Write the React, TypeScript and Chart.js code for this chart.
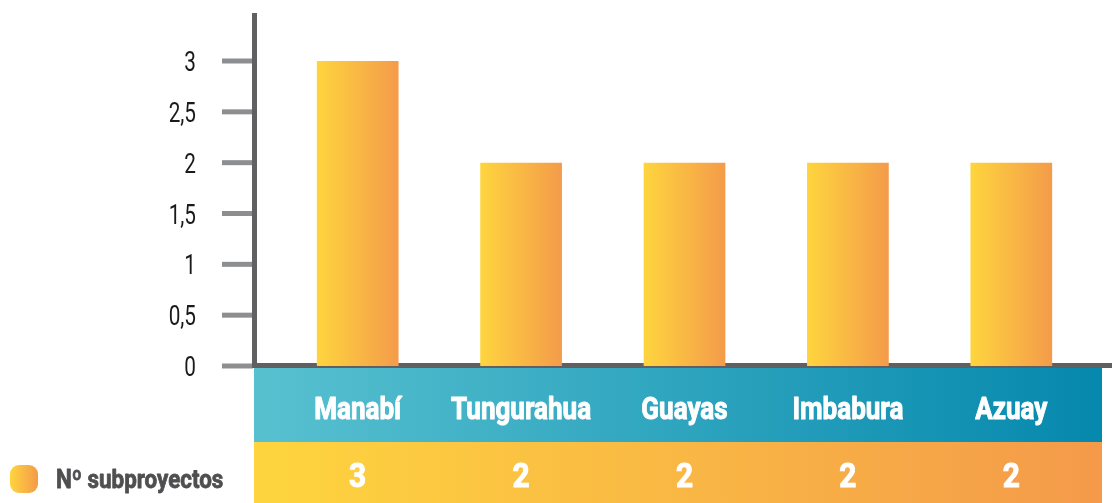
import React, { useEffect, useRef } from "react";
import { Chart, registerables } from "chart.js";

Chart.register(...registerables);

const categories: string[] = ["Manabí", "Tungurahua", "Guayas", "Imbabura", "Azuay"];
const subproyectos: number[] = [3, 2, 2, 2, 2];
const yTicks: number[] = [0, 0.5, 1, 1.5, 2, 2.5, 3];
const legendLabel = "Nº subproyectos";

const FONT = 'Roboto, "Noto Sans", sans-serif';
const W = 1112;
const H = 503;

const fmt = (v: number) => String(v).replace(".", ",");

function condensedText(
  ctx: CanvasRenderingContext2D,
  text: string,
  x: number,
  y: number,
  font: string,
  sx: number,
  align: CanvasTextAlign,
  color: string,
  heavy = 0
) {
  ctx.save();
  ctx.translate(x, y);
  ctx.scale(sx, 1);
  ctx.font = font;
  ctx.textAlign = align;
  ctx.textBaseline = "alphabetic";
  ctx.fillStyle = color;
  ctx.fillText(text, 0, 0);
  if (heavy > 0) {
    ctx.strokeStyle = color;
    ctx.lineWidth = heavy;
    ctx.lineJoin = "round";
    ctx.strokeText(text, 0, 0);
  }
  ctx.restore();
}

const overlayPlugin = {
  id: "overlay",
  beforeDatasetsDraw(chart: any) {
    const ctx = chart.ctx as CanvasRenderingContext2D;
    const y = chart.scales.y;
    const x = chart.scales.x;
    const y0 = y.getPixelForValue(0);
    ctx.save();
    // tick marks and labels
    ctx.strokeStyle = "#8d8e90";
    ctx.lineWidth = 5;
    yTicks.forEach((t) => {
      const py = y.getPixelForValue(t);
      ctx.beginPath();
      ctx.moveTo(222, py);
      ctx.lineTo(253, py);
      ctx.stroke();
      condensedText(ctx, fmt(t), 196, py + 10, "400 28px " + FONT, 0.74, "right", "#1a1a1a");
    });
    // bands
    const bandLeft = 254;
    const bandRight = 1102;
    const tealTop = y0 + 2;
    const tealBottom = 442;
    const g1 = ctx.createLinearGradient(bandLeft, 0, bandRight, 0);
    g1.addColorStop(0, "#58c1d0");
    g1.addColorStop(1, "#0588ad");
    ctx.fillStyle = g1;
    ctx.fillRect(bandLeft, tealTop, bandRight - bandLeft, tealBottom - tealTop);
    const g2 = ctx.createLinearGradient(bandLeft, 0, bandRight, 0);
    g2.addColorStop(0, "#fed53e");
    g2.addColorStop(1, "#f49a4a");
    ctx.fillStyle = g2;
    ctx.fillRect(bandLeft, tealBottom, bandRight - bandLeft, H - tealBottom);
    // labels
    categories.forEach((c, i) => {
      const px = x.getPixelForValue(i);
      condensedText(ctx, c, px, 419, "bold 31px " + FONT, 0.84, "center", "#ffffff", 1);
      condensedText(ctx, String(subproyectos[i]), px, 487, "bold 34px " + FONT, 0.88, "center", "#ffffff", 1);
    });
    // axes lines
    ctx.strokeStyle = "#606062";
    ctx.lineWidth = 5;
    ctx.beginPath();
    ctx.moveTo(254.5, 13);
    ctx.lineTo(254.5, y0 + 2);
    ctx.stroke();
    ctx.beginPath();
    ctx.moveTo(252, y0 - 0.5);
    ctx.lineTo(W, y0 - 0.5);
    ctx.stroke();
    // legend
    const lg = ctx.createLinearGradient(10, 0, 38, 0);
    lg.addColorStop(0, "#fed53e");
    lg.addColorStop(1, "#f49a4a");
    ctx.fillStyle = lg;
    ctx.beginPath();
    (ctx as any).roundRect(10, 465, 28, 28, 9);
    ctx.fill();
    condensedText(ctx, legendLabel, 56, 488, "bold 26px " + FONT, 0.86, "left", "#4f4f51", 0.8);
    ctx.restore();
  },
};

export default function App() {
  const ref = useRef<HTMLCanvasElement | null>(null);
  useEffect(() => {
    if (!ref.current) return;
    const chart = new Chart(ref.current, {
      type: "bar",
      data: {
        labels: categories,
        datasets: [
          {
            label: legendLabel,
            data: subproyectos,
            backgroundColor: (c: any) => {
              const ch = c.chart;
              const xs = ch.scales && ch.scales.x;
              if (!xs || c.dataIndex === undefined) return "#f9b845";
              const px = xs.getPixelForValue(c.dataIndex);
              if (!Number.isFinite(px)) return "#f9b845";
              const half = 41;
              const g = ch.ctx.createLinearGradient(px - half, 0, px + half, 0);
              g.addColorStop(0, "#fed53e");
              g.addColorStop(1, "#f49b4a");
              return g;
            },
            borderWidth: 0,
            categoryPercentage: 1,
            barPercentage: 0.5,
          },
        ],
      },
      options: {
        responsive: false,
        animation: false,
        maintainAspectRatio: false,
        layout: { padding: { top: 61, bottom: H - 366, left: 0, right: W - 1093 } },
        plugins: { legend: { display: false }, tooltip: { enabled: false } },
        scales: {
          x: { display: false },
          y: {
            min: 0,
            max: 3,
            afterFit: (s: any) => {
              s.width = 276;
              s.paddingTop = 0;
              s.paddingBottom = 0;
            },
            afterBuildTicks: (s: any) => {
              s.ticks = yTicks.map((v) => ({ value: v }));
            },
            grid: { display: false, drawTicks: false },
            border: { display: false },
            ticks: { display: false },
          },
        },
      },
      plugins: [overlayPlugin],
    });
    return () => chart.destroy();
  }, []);
  return (
    <div style={{ position: "fixed", left: 0, top: 0, width: W, height: H, background: "#fff" }}>
      <canvas ref={ref} width={W} height={H} style={{ width: W, height: H }} />
    </div>
  );
}
